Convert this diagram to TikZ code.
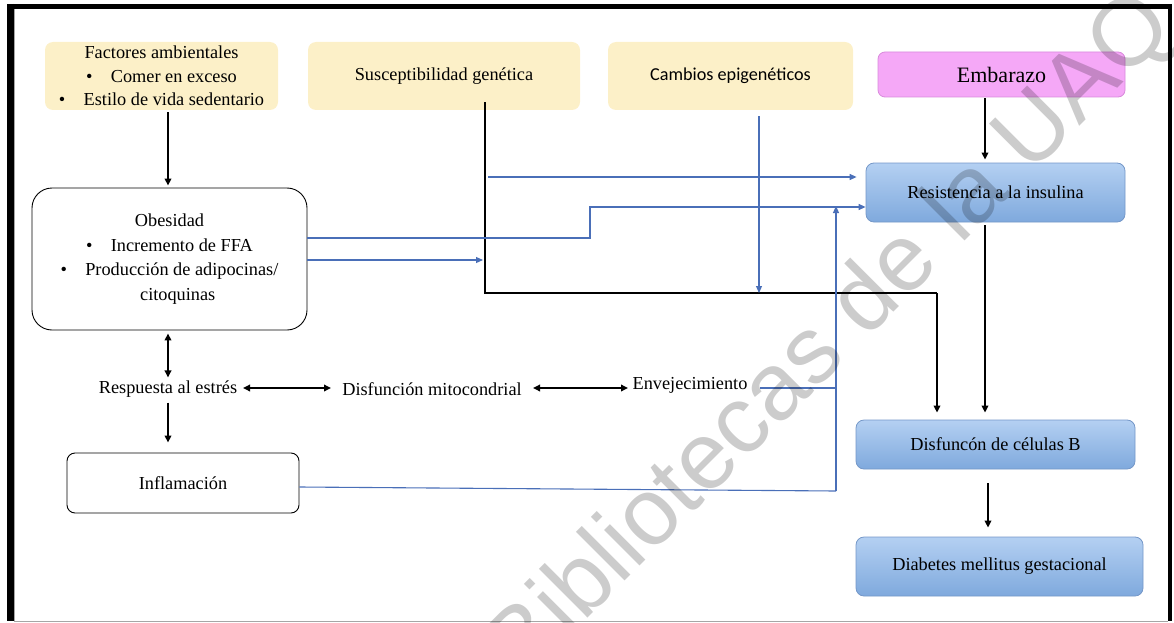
\documentclass[tikz,border=0pt]{standalone}
\usepackage{fontspec}
\setmainfont{Liberation Serif}
\newfontfamily\calibrifont{Carlito}
\newfontfamily\wmfont{Liberation Sans}
\usetikzlibrary{arrows.meta,calc}
\definecolor{ybox}{HTML}{FCF0C8}
\definecolor{pinkfill}{HTML}{F5A8F7}
\definecolor{pinkline}{HTML}{D88ADB}
\definecolor{bluetop}{HTML}{B4D0F2}
\definecolor{bluebot}{HTML}{7FA9DD}
\definecolor{blueline}{HTML}{7497C8}
\definecolor{conn}{HTML}{4A6FB8}
\begin{document}
\begin{tikzpicture}[x=1pt,y=-1pt,
  every node/.style={font=\fontsize{18.3}{23.5}\selectfont, inner sep=0pt},
  ybx/.style={fill=ybox, rounded corners=8pt, draw=none},
  wbx/.style={draw=black, line width=0.9pt, fill=white},
  bbx/.style={top color=bluetop, bottom color=bluebot, draw=blueline, line width=0.8pt, rounded corners=8pt},
  blk/.style={draw=black, line width=2pt, -{Triangle[length=7pt,width=6.5pt]}},
  blkd/.style={draw=black, line width=2pt, {Triangle[length=7pt,width=6.5pt]}-{Triangle[length=7pt,width=6.5pt]}},
  blu/.style={draw=conn, line width=1.1pt},
  blua/.style={draw=conn, line width=1.1pt, -{Triangle[length=7pt,width=6pt]}},
]
\useasboundingbox (0,0) rectangle (1174,623);
% frame
\draw[gray!70, line width=1pt] (14,8) -- (14,621) -- (1168,621);
\draw[black, line width=5pt] (10.5,6.5) -- (1170,6.5);
\draw[black, line width=7pt] (10.5,4) -- (10.5,621);
\draw[black, line width=4pt] (1170,4) -- (1170,621);

% top boxes
\node[ybx, minimum width=233pt, minimum height=68pt, align=center] (fa) at (161.5,76)
  {Factores ambientales\\ \textbullet\hspace{1em}Comer en exceso\\ \textbullet\hspace{1em}Estilo de vida sedentario};
\node[ybx, minimum width=272pt, minimum height=68pt] (sg) at (444,76) {Susceptibilidad genética};
\node[ybx, minimum width=245pt, minimum height=68pt, font=\calibrifont\fontsize{18.2}{22}\selectfont] (ce) at (730.5,76) {Cambios epigenéticos};
\node[fill=pinkfill, draw=pinkline, line width=0.8pt, rounded corners=7pt, minimum width=247pt, minimum height=45pt, font=\fontsize{22}{24}\selectfont] (em) at (1001.5,74.5) {Embarazo};

% left column
\node[wbx, rounded corners=20pt, minimum width=275pt, minimum height=142pt, align=center, font=\fontsize{18.3}{24.5}\selectfont] (ob) at (169.5,259)
  {Obesidad\\ \textbullet\hspace{1em}Incremento de FFA\\ \textbullet\hspace{1em}Producción de adipocinas/\\ \hspace{0.9em}citoquinas};
\node (re) at (168,389) {Respuesta al estrés};
\node (dm) at (432,389) {Disfunción mitocondrial};
\node (env) at (690,385) {Envejecimiento};
\node[wbx, rounded corners=8pt, minimum width=232pt, minimum height=60pt] (inf) at (183,483) {Inflamación};

% right column
\node[bbx, minimum width=259pt, minimum height=59pt] (ri) at (995.5,192.5) {Resistencia a la insulina};
\node[bbx, minimum width=279pt, minimum height=49pt] (db) at (995.5,444.5) {Disfuncón de células B};
\node[bbx, minimum width=287pt, minimum height=59pt] (dg) at (999.5,566.5) {Diabetes mellitus gestacional};

% coordinates
\coordinate (xa) at (168,0);
\coordinate (xr) at (985,0);
\coordinate (xd) at (988,0);
\coordinate (xe) at (759,0);
\coordinate (g2) at (485,293);
\coordinate (g3) at (937,293);
\coordinate (v1) at (836,491);
\coordinate (v2) at (836,206);
\coordinate (y0) at (0,177);
\coordinate (y1) at (0,238);
\coordinate (y2) at (0,260);
\coordinate (y3) at (0,207);
\coordinate (h1) at (243,388);
\coordinate (h2) at (331,388);
\coordinate (h3) at (533,388);
\coordinate (h4) at (628,388);
\coordinate (h5) at (760,388);

% black connectors
\draw[blk] ($(fa.south -| xa)+(0,2)$) -- ($(ob.north -| xa)+(0,-2)$);
\draw[blkd] ($(ob.south -| xa)+(0,3)$) -- ($(re.north -| xa)+(0,-3)$);
\draw[blk] ($(re.south -| xa)+(0,5)$) -- ($(inf.north -| xa)+(0,-10)$);
\draw[blkd] (h1) -- (h2);
\draw[blkd] (h3) -- (h4);
\draw[draw=black, line width=2.6pt] ($(sg.south -| g2)+(0,-8)$) -- (g2) -- (g3);
\draw[blk, line width=2.6pt] (g3) -- ($(db.north -| g3)+(0,-7)$);
\draw[blk] ($(em.south -| xr)+(0,1)$) -- ($(ri.north -| xr)+(0,-3)$);
\draw[blk] ($(ri.south -| xr)+(0,3)$) -- ($(db.north -| xr)+(0,-7)$);
\draw[blk] ($(db.south -| xd)+(0,14)$) -- ($(dg.north -| xd)+(0,-9)$);

% blue connectors
\draw[blua] ($(g2 |- y0)+(3,0)$) -- ($(ri.west |- y0)+(-9,0)$);
\draw[blua] (ob.east |- y1) -- (590,238) -- (590,207) -- (ri.west |- y3);
\draw[blua] (ob.east |- y2) -- ($(g2 |- y2)+(-2,0)$);
\draw[blua] ($(ce.south -| xe)+(0,6)$) -- (g2 -| xe);
\draw[blu] ($(inf.east)+(0,4)$) -- (v1);
\draw[blua] (v1) -- (v2);
\draw[blu] (h5) -- (h5 -| v1);

% watermark
\node[font=\wmfont\fontsize{95}{95}\selectfont, text=black, opacity=0.2, rotate=45] (wm) at (832,338) {Bibliotecas de la UAQ};
\end{tikzpicture}
\end{document}
